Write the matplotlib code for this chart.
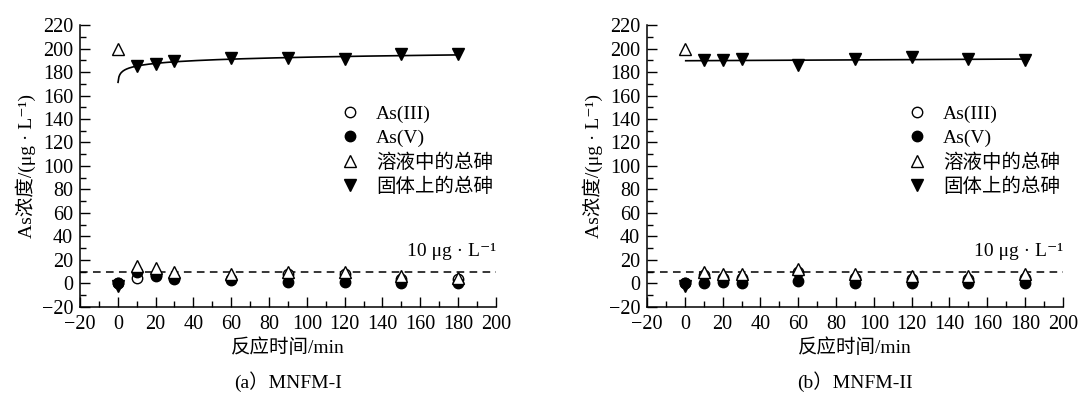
import matplotlib
matplotlib.use('Agg')
import matplotlib.pyplot as plt
import numpy as np
from matplotlib.lines import Line2D
from matplotlib.ticker import MultipleLocator

plt.rcParams['font.family'] = ['Liberation Serif', 'Noto Sans CJK SC', 'DejaVu Serif']
plt.rcParams['font.size'] = 14

# reaction time, min
time = [0, 10, 20, 30, 60, 90, 120, 150, 180]

# (a) MNFM-I, concentrations in ug/L
as3_a = [0, 5, 7, 5, 4, 8, 8, 4, 4]
as5_a = [0, 10, 6, 4, 3, 1, 1, 0, 0]
sol_a = [200, 15, 13, 10, 8, 10, 10, 6, 5]
solid_a = [-2, 185, 187, 189, 192, 192, 191, 195, 195]

# (b) MNFM-II
as3_b = [0, 7, 5, 5, 10, 5, 4, 4, 5]
as5_b = [0, 0, 1, 0, 2, 0, 0, 0, 0]
sol_b = [200, 10, 8, 8, 12, 8, 6, 6, 8]
solid_b = [-2, 190, 190, 191, 186, 191, 193, 191, 190]

labels = ['As(III)', 'As(V)', '溶液中的总砷', '固体上的总砷']
limit = 10

fig = plt.figure(figsize=(10.79, 3.95), dpi=100)
ax_a = fig.add_axes([0.0741, 0.2228, 0.3855, 0.7139])
ax_b = fig.add_axes([0.5996, 0.2228, 0.3855, 0.7139])


def panel(ax, as3, as5, sol, solid, fit, caption):
    t = np.array(time, dtype=float)
    ax.plot(time, as3, 'o', mfc='white', mec='black', ms=7.5, mew=1.0, zorder=3)
    ax.plot(time, as5, 'o', color='black', ms=7.5, zorder=3)
    ax.plot(time, sol, '^', mfc='white', mec='black', ms=9, mew=1.0, zorder=4)
    ax.plot(time, solid, 'v', color='black', ms=9, zorder=4)

    # fitted curve through the solid-phase arsenic (t > 0)
    ts = t[1:]
    ys = np.array(solid[1:], dtype=float)
    if fit == 'log':
        b, a = np.polyfit(np.log(ts), ys, 1)
        xx = np.linspace(0.15, 180, 400)
        yy = a + b * np.log(xx)
    else:
        b, a = np.polyfit(ts, ys, 1)
        xx = np.array([0.5, 182])
        yy = a + b * xx
    ax.plot(xx, yy, color='black', lw=1.2, zorder=2)

    ax.axhline(limit, color='black', lw=1.1, ls=(0, (5, 3.5)), zorder=1)
    ax.text(200, 27, '10 μg · L⁻¹', ha='right', va='center')

    ax.set_xlim(-20, 200)
    ax.set_ylim(-20, 220)
    ax.xaxis.set_major_locator(MultipleLocator(20))
    ax.xaxis.set_minor_locator(MultipleLocator(10))
    ax.yaxis.set_major_locator(MultipleLocator(20))
    ax.yaxis.set_minor_locator(MultipleLocator(10))
    ax.tick_params(which='major', direction='in', length=7, width=1.0,
                   labelsize=14.5)
    ax.tick_params(axis='x', which='major', pad=6)
    ax.tick_params(axis='y', which='major', pad=5)
    ax.tick_params(which='minor', direction='in', length=4, width=1.0)
    ax.spines['top'].set_visible(False)
    ax.spines['right'].set_visible(False)
    ax.spines['left'].set_linewidth(1.1)
    ax.spines['bottom'].set_linewidth(1.1)

    ax.set_xlabel('反应时间/min', labelpad=3)
    ax.set_ylabel('As浓度/(μg · L⁻¹)', labelpad=4)
    ax.text(0.5, -0.265, caption, transform=ax.transAxes, ha='center', va='center')

    handles = [
        Line2D([], [], ls='none', marker='o', mfc='white', mec='black', ms=7.5),
        Line2D([], [], ls='none', marker='o', color='black', ms=7.5),
        Line2D([], [], ls='none', marker='^', mfc='white', mec='black', ms=9),
        Line2D([], [], ls='none', marker='v', color='black', ms=9),
    ]
    ax.legend(handles, labels, loc='upper left', bbox_to_anchor=(0.625, 0.715),
              frameon=False, handlelength=1.0, handletextpad=0.85,
              labelspacing=0.32, borderpad=0, borderaxespad=0)


panel(ax_a, as3_a, as5_a, sol_a, solid_a, 'log', '(a）MNFM-I')
panel(ax_b, as3_b, as5_b, sol_b, solid_b, 'linear', '(b）MNFM-II')

fig.savefig('out.png', dpi=100)
